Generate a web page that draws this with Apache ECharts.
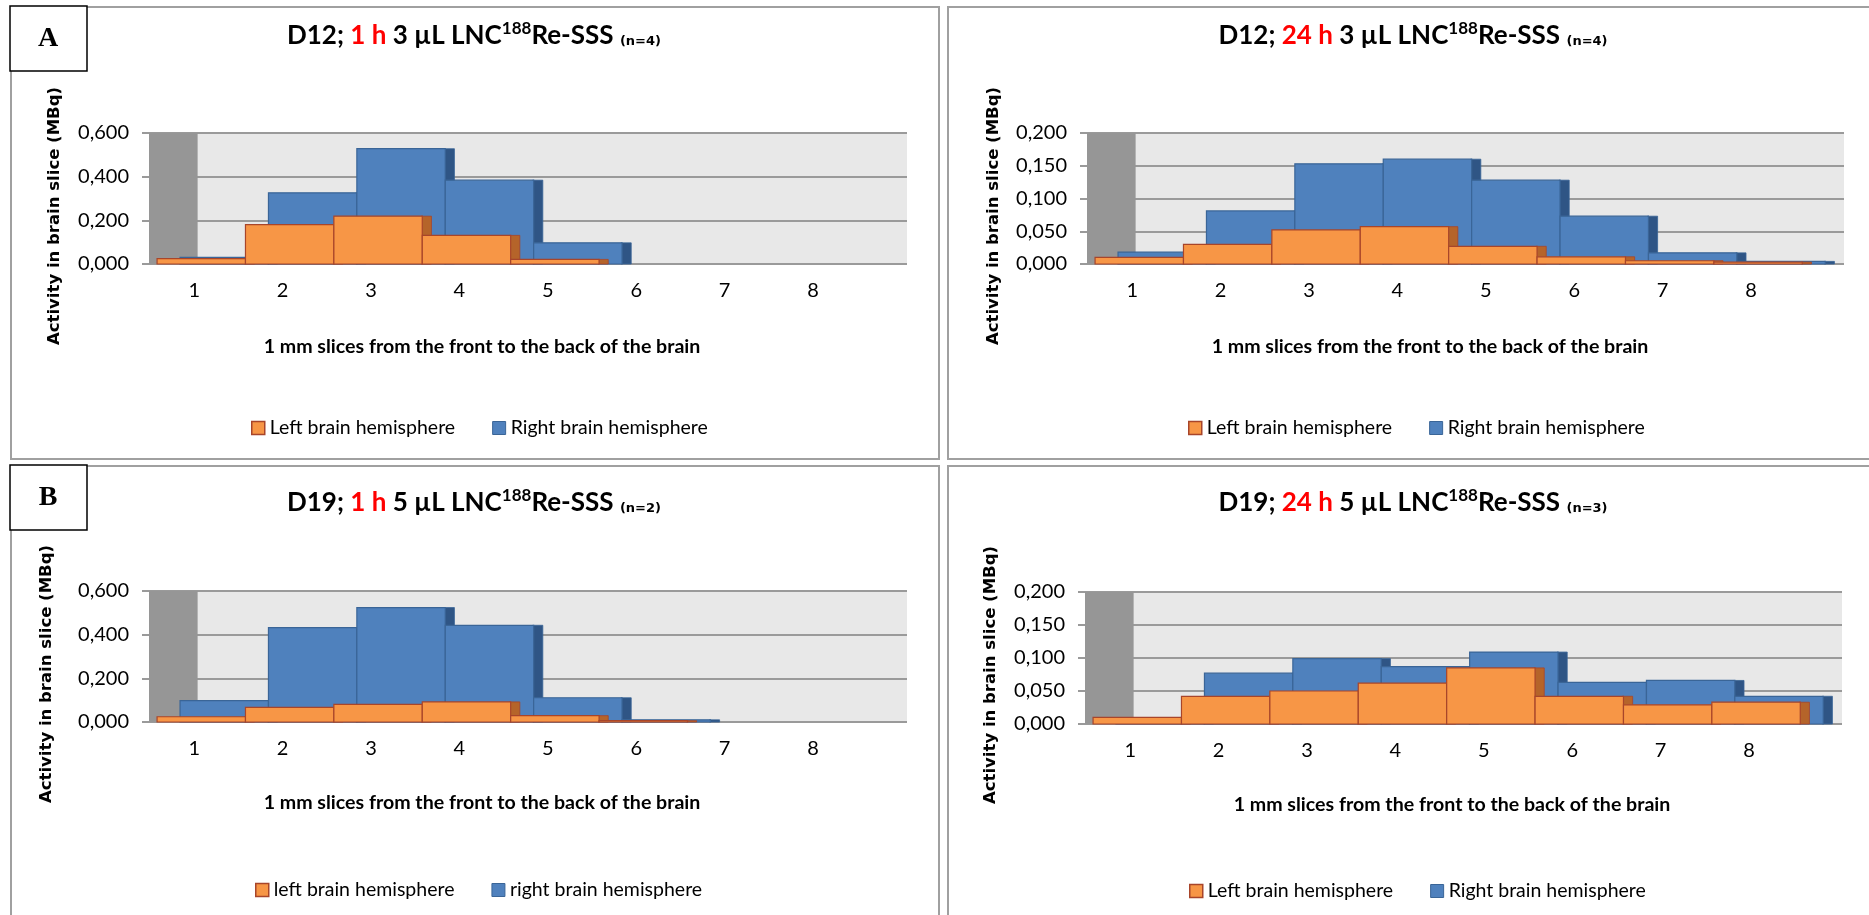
<!DOCTYPE html>
<html><head><meta charset="utf-8">
<script src="https://cdn.jsdelivr.net/npm/echarts@6/dist/echarts.min.js"></script>
<style>html,body{margin:0;padding:0;background:#fff}#c{width:1869px;height:915px}</style>
</head><body><div id="c"></div>
<script>
// ---------- data ----------
const categories = ['1', '2', '3', '4', '5', '6', '7', '8'];

const d12h1Left   = [0.025, 0.180, 0.219, 0.131, 0.021, 0.000, 0.000, 0.000];
const d12h1Right  = [0.030, 0.326, 0.528, 0.384, 0.097, 0.000, 0.000, 0.000];
const d12h24Left  = [0.010, 0.030, 0.052, 0.057, 0.027, 0.011, 0.005, 0.003];
const d12h24Right = [0.018, 0.081, 0.153, 0.160, 0.128, 0.073, 0.017, 0.004];
const d19h1Left   = [0.024, 0.067, 0.081, 0.092, 0.029, 0.006, 0.000, 0.000];
const d19h1Right  = [0.098, 0.432, 0.524, 0.443, 0.111, 0.010, 0.000, 0.000];
const d19h24Left  = [0.010, 0.042, 0.050, 0.062, 0.085, 0.042, 0.029, 0.033];
const d19h24Right = [0.008, 0.077, 0.099, 0.087, 0.109, 0.063, 0.066, 0.042];

const yMaxes = [0.6, 0.2, 0.6, 0.2];
const yIntervals = [0.2, 0.05, 0.2, 0.05];

const titleDays = ['D12; ', 'D12; ', 'D19; ', 'D19; '];
const titleTimes = ['1 h', '24 h', '1 h', '24 h'];
const titleDoses = [' 3 µL LNC', ' 3 µL LNC', ' 5 µL LNC', ' 5 µL LNC'];
const titleIso = '188';
const titleTail = 'Re-SSS ';
const titleNs = ['(n=4)', '(n=4)', '(n=2)', '(n=3)'];
const panelLetters = ['A', null, 'B', null];
const yAxisTitle = 'Activity in brain slice (MBq)';
const xAxisTitle = '1 mm slices from the front to the back of the brain';
const leftNames = ['Left brain hemisphere', 'Left brain hemisphere', 'left brain hemisphere', 'Left brain hemisphere'];
const rightNames = ['Right brain hemisphere', 'Right brain hemisphere', 'right brain hemisphere', 'Right brain hemisphere'];

const leftSeries = [d12h1Left, d12h24Left, d19h1Left, d19h24Left];
const rightSeries = [d12h1Right, d12h24Right, d19h1Right, d19h24Right];

// ---------- layout ----------
const F = "Lato, 'Noto Sans', sans-serif";
const FV = "'DejaVu Sans', Verdana, sans-serif";
const BAND = 88.4;
const layout = [
  {box:[11,7,928,452],  titleX:474,  titleY:36,  wallL:149,  plotR:907,  top:133, base:264, xtX:482,  xtY:347, legL:246,  legY:424, ytX:55,  ytY:216},
  {box:[948,7,940,452], titleX:1413, titleY:36,  wallL:1087, plotR:1844, top:133, base:264, xtX:1430, xtY:347, legL:1183, legY:424, ytX:994, ytY:216},
  {box:[11,466,928,470],titleX:474,  titleY:503, wallL:149,  plotR:907,  top:591, base:722, xtX:482,  xtY:803, legL:250,  legY:886, ytX:47,  ytY:674},
  {box:[948,466,940,470],titleX:1413,titleY:503, wallL:1085, plotR:1842, top:592, base:724, xtX:1452, xtY:805, legL:1184, legY:887, ytX:991, ytY:675}
];

const ORANGE = {front:'#F79646', stroke:'#A8452A', side:'#B5642A'};
const BLUE = {front:'#4F81BD', stroke:'#3A6597', side:'#2F5585'};

function barRender(offsetFrac, col) {
  return function (params, api) {
    const ci = api.value(0), v = api.value(1);
    if (!(v > 0)) return null;
    const base = api.coord([ci, 0]);
    const top = api.coord([ci, v]);
    const bw = api.size([1, 0])[0];
    const x0 = base[0] - bw / 2 + offsetFrac * bw;
    const h = Math.max(base[1] - top[1], 1);
    const side = bw * 0.115;
    return {
      type: 'group',
      children: [
        {type:'rect', shape:{x:x0 + bw - 1, y:base[1] - h, width:side, height:h}, style:{fill:col.side, stroke:col.stroke, lineWidth:0.8}},
        {type:'rect', shape:{x:x0, y:base[1] - h, width:bw, height:h}, style:{fill:col.front, stroke:col.stroke, lineWidth:1.2}}
      ]
    };
  };
}
function wallRender(params, api) {
  const b = api.coord([0, 0]);
  const t = api.coord([0, api.value(1)]);
  const bw = api.size([1, 0])[0];
  return {type:'rect', shape:{x:b[0] - bw / 2 - 1, y:t[1], width:bw * 0.55, height:b[1] - t[1]}, style:{fill:'#969696'}};
}

const grid = [], xAxis = [], yAxis = [], series = [], legend = [], graphic = [];
const fmt = v => v.toFixed(3).replace('.', ',');

layout.forEach((L, p) => {
  const g0 = 2 * p, g1 = 2 * p + 1;
  grid.push({left:L.wallL, top:L.top, width:L.plotR - L.wallL, height:L.base - L.top, show:true, backgroundColor:'#e8e8e8', borderWidth:0});
  grid.push({left:L.wallL + 1, top:L.top, width:8 * BAND, height:L.base - L.top});
  xAxis.push({gridIndex:g0, type:'value', min:0, max:1, show:false});
  yAxis.push({gridIndex:g0, type:'value', min:0, max:yMaxes[p], interval:yIntervals[p],
    axisLine:{show:false}, axisTick:{show:true, length:7, lineStyle:{color:'#9a9a9a', width:2}},
    axisLabel:{margin:20, formatter:fmt, fontSize:20, fontFamily:F, color:'#000'},
    splitLine:{lineStyle:{color:'#9a9a9a', width:2}}});
  xAxis.push({gridIndex:g1, type:'category', data:categories, axisLine:{show:false}, axisTick:{show:false},
    axisLabel:{margin:17, fontSize:20, fontFamily:F, color:'#000'}});
  yAxis.push({gridIndex:g1, type:'value', min:0, max:yMaxes[p], show:false, splitLine:{show:false}});

  series.push({type:'custom', xAxisIndex:g1, yAxisIndex:g1, silent:true, z:1, data:[[0, yMaxes[p]]], renderItem:wallRender});
  series.push({type:'custom', name:rightNames[p], xAxisIndex:g1, yAxisIndex:g1, z:2,
    data:rightSeries[p].map((v, i) => [i, v]), renderItem:barRender(0.34, BLUE), itemStyle:{color:BLUE.front}});
  series.push({type:'custom', name:leftNames[p], xAxisIndex:g1, yAxisIndex:g1, z:3,
    data:leftSeries[p].map((v, i) => [i, v]), renderItem:barRender(0.08, ORANGE), itemStyle:{color:ORANGE.front}});

  legend.push({left:L.legL, top:L.legY - 11, itemWidth:13, itemHeight:13, itemGap:37, selectedMode:false,
    textStyle:{fontSize:19.5, fontFamily:F, color:'#000'},
    data:[{name:leftNames[p], icon:'rect', itemStyle:{color:ORANGE.front, borderColor:ORANGE.stroke, borderWidth:1.5}},
          {name:rightNames[p], icon:'rect', itemStyle:{color:BLUE.front, borderColor:BLUE.stroke, borderWidth:1}}]});

  graphic.push({type:'rect', z:-10, shape:{x:L.box[0], y:L.box[1], width:L.box[2], height:L.box[3]}, style:{fill:'none', stroke:'#a0a0a0', lineWidth:2}});
  graphic.push({type:'text', x:L.titleX, y:L.titleY, style:{
    text:'{a|' + titleDays[p] + '}{r|' + titleTimes[p] + '}{a|' + titleDoses[p] + '}{s|' + titleIso + '}{a|' + titleTail + '}{n|' + titleNs[p] + '}',
    align:'center', verticalAlign:'middle',
    rich:{
      a:{fontSize:26, fontWeight:'bold', fontFamily:F, fill:'#000', lineHeight:32},
      r:{fontSize:26, fontWeight:'bold', fontFamily:F, fill:'#ff0000', lineHeight:32},
      s:{fontSize:17, fontWeight:'bold', fontFamily:F, fill:'#000', lineHeight:32, verticalAlign:'top'},
      n:{fontSize:13, fontWeight:'bold', fontFamily:FV, fill:'#000', lineHeight:32, verticalAlign:'bottom', padding:[0,0,4,0]}
    }}});
  graphic.push({type:'text', x:L.ytX, y:L.ytY, rotation:Math.PI / 2, style:{text:yAxisTitle, align:'center', verticalAlign:'middle',
    font:'bold 16.5px ' + FV, fill:'#000'}});
  graphic.push({type:'text', x:L.xtX, y:L.xtY, style:{text:xAxisTitle, align:'center', verticalAlign:'middle',
    font:'bold 19.6px ' + F, fill:'#000'}});
  if (panelLetters[p]) {
    graphic.push({type:'rect', z:10, shape:{x:L.box[0] - 1, y:L.box[1] - 1, width:77, height:65}, style:{fill:'#fff', stroke:'#000', lineWidth:1.5}});
    graphic.push({type:'text', z:11, x:L.box[0] + 37, y:L.box[1] + 32, style:{text:panelLetters[p], align:'center', verticalAlign:'middle',
      font:'bold 28px "Liberation Serif", "DejaVu Serif", serif', fill:'#000'}});
  }
});

const chart = echarts.init(document.getElementById('c'));
chart.setOption({animation:false, backgroundColor:'#fff', grid, xAxis, yAxis, series, legend, graphic});
</script>
</body></html>
